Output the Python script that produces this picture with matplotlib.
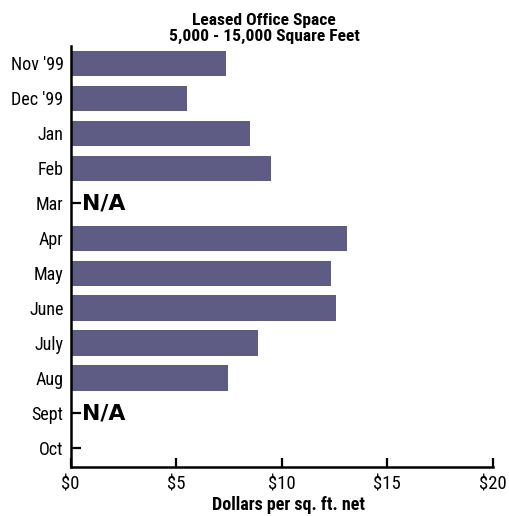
import numpy as np
import matplotlib
matplotlib.use("Agg")
import matplotlib.pyplot as plt
from matplotlib import font_manager

categories = ["Nov '99", "Dec '99", "Jan", "Feb", "Mar", "Apr", "May", "June", "July", "Aug", "Sept", "Oct"]
values = [7.37, 5.52, 8.51, 9.48, None, 13.08, 12.35, 12.58, 8.89, 7.46, None, None]
notes = ["", "", "", "", "N/A", "", "", "", "", "", "N/A", ""]
xticks = [0, 5, 10, 15, 20]
xticklabels = ["$0", "$5", "$10", "$15", "$20"]
title = "Leased Office Space\n5,000 - 15,000 Square Feet"
xlabel = "Dollars per sq. ft. net"

names = {f.name for f in font_manager.fontManager.ttflist}
narrow = next((n for n in ["Roboto Condensed", "PT Sans Narrow", "Archivo Narrow"] if n in names), "DejaVu Sans")
plt.rcParams['font.family'] = [narrow, 'DejaVu Sans']

fig = plt.figure(figsize=(5.09, 5.16), dpi=100)
ax = fig.add_axes([70.5/509, 49/516, (492.7-70.5)/509, (467-46)/516])
ax.set_axisbelow(True)

y = np.arange(len(categories))
vals = np.array([np.nan if v is None else v for v in values], dtype=float)
ax.barh(y, np.nan_to_num(vals), height=0.73, color='#5E5C84', edgecolor='none', zorder=3)
for yi, n in zip(y, notes):
    if n:
        ax.text(0.56, yi, n, fontsize=15.8, fontweight='bold', family='DejaVu Sans',
                va='center', ha='left', color='black')

ax.set_ylim(len(categories) - 0.46, -0.5)
ax.set_xlim(0, 20)
ax.set_yticks(y)
ax.set_yticklabels(categories, fontsize=13)
ax.set_xticks(xticks)
ax.set_xticklabels(xticklabels, fontsize=13.5)
ax.tick_params(axis='y', direction='in', length=7.5, width=1.6, pad=5)
ax.tick_params(axis='x', direction='in', length=6.5, width=1.6, pad=6)
for s in ['top', 'right']:
    ax.spines[s].set_visible(False)
for s in ['left', 'bottom']:
    ax.spines[s].set_linewidth(1.8)
    ax.spines[s].set_zorder(4)
ax.set_xlabel(xlabel, fontsize=13, fontweight='bold', labelpad=2)
ax.xaxis.label.set_x((288 - 70.5) / 422.2)
fig.text(264/509, 1 - 28.5/516, title, ha='center', va='center', fontsize=12.6,
         fontweight='bold', linespacing=1.05)
fig.savefig("out.png", dpi=100)
